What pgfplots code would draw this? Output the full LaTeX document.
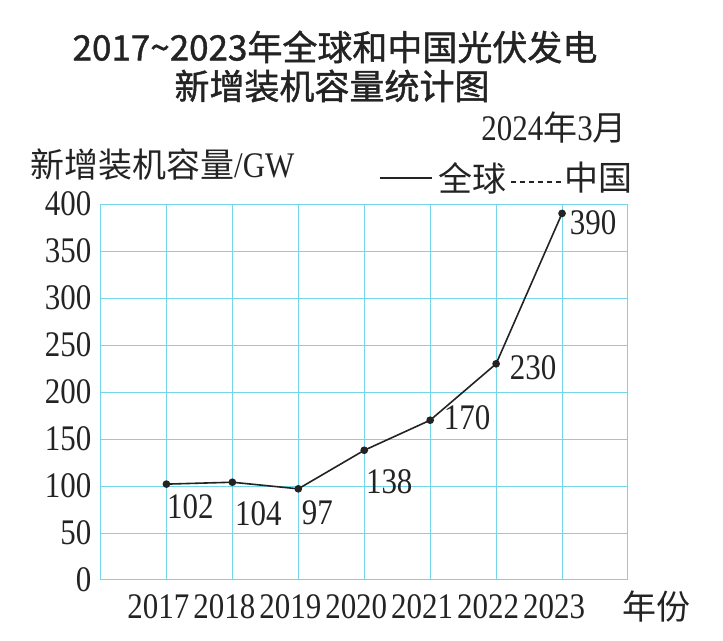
\documentclass[border=0pt]{standalone}
\usepackage{fontspec}
\setmainfont[FakeStretch=0.86]{Liberation Serif}
\newfontfamily\cjk{Noto Sans CJK SC}
\newfontfamily\cjkt[FakeBold=1.2]{Noto Sans CJK SC}
\usepackage{pgfplots}
\pgfplotsset{compat=1.18}
\definecolor{gridc}{RGB}{115,214,234}
\definecolor{inkc}{RGB}{35,35,35}
\begin{document}
\begin{tikzpicture}[x=1pt,y=1pt]
\path[use as bounding box] (0,0) rectangle (723,640);
\begin{axis}[
  at={(100.5pt,60pt)}, anchor=south west,
  scale only axis, width=527.5pt, height=376pt,
  xmin=2016, xmax=2024, ymin=0, ymax=400,
  xtick={2017,2018,...,2023}, ytick={0,50,...,400},
  grid=major,
  major grid style={draw=gridc, line width=1pt},
  axis line style={draw=gridc, line width=1pt},
  tick style={draw=none}, major tick length=0pt,
  tick label style={font=\fontsize{36}{36}\selectfont, text=inkc, inner sep=0pt},
  xticklabel style={yshift=-14pt, xshift=-8pt},
  yticklabel style={xshift=-9pt},
  /pgf/number format/assume math mode=true,
  /pgf/number format/1000 sep={},
  clip=false,
]
\addplot[inkc, line width=1.6pt, mark=*, mark size=3pt] coordinates {
  (2017,102) (2018,104) (2019,97) (2020,138) (2021,170) (2022,230) (2023,390)
};
\begin{scope}[every node/.style={font=\fontsize{36}{36}\selectfont, text=inkc, inner sep=0pt}]
\node[xshift=24pt, yshift=-23pt] at (axis cs:2017,102) {102};
\node[xshift=26pt, yshift=-31pt] at (axis cs:2018,104) {104};
\node[xshift=19pt, yshift=-24pt] at (axis cs:2019,97) {97};
\node[xshift=25pt, yshift=-31pt] at (axis cs:2020,138) {138};
\node[xshift=37pt, yshift=2pt] at (axis cs:2021,170) {170};
\node[xshift=37pt, yshift=-4pt] at (axis cs:2022,230) {230};
\node[xshift=31pt, yshift=-9pt] at (axis cs:2023,390) {390};
\end{scope}
\end{axis}
% titles and annotations (y measured from top: y = 640 - px)
\node[font=\cjkt\fontsize{35}{35}\selectfont, text=inkc, inner sep=0pt] at (335,593) {2017\char"007E 2023年全球和中国光伏发电};
\node[font=\cjkt\fontsize{35}{35}\selectfont, text=inkc, inner sep=0pt] at (332,554) {新增装机容量统计图};
\node[anchor=east, inner sep=0pt, text=inkc, font=\fontsize{36}{36}\selectfont] at (627,512) {2024{\cjk\fontsize{34}{34}\selectfont 年}3{\cjk\fontsize{34}{34}\selectfont 月}};
\node[anchor=west, inner sep=0pt, text=inkc, font=\fontsize{36}{36}\selectfont] at (30,475) {{\cjk\fontsize{34}{34}\selectfont 新增装机容量}/GW};
\draw[inkc, line width=1.6pt] (380,462) -- (432,462);
\node[anchor=west, inner sep=0pt, text=inkc, font=\cjk\fontsize{34}{34}\selectfont] at (438,462) {全球};
\draw[inkc, line width=1.3pt, dash pattern=on 5pt off 4pt] (511,458) -- (561,458);
\node[anchor=west, inner sep=0pt, text=inkc, font=\cjk\fontsize{34}{34}\selectfont] at (564,462) {中国};
\node[anchor=west, inner sep=0pt, text=inkc, font=\cjk\fontsize{34}{34}\selectfont] at (622,33) {年份};
\end{tikzpicture}
\end{document}
